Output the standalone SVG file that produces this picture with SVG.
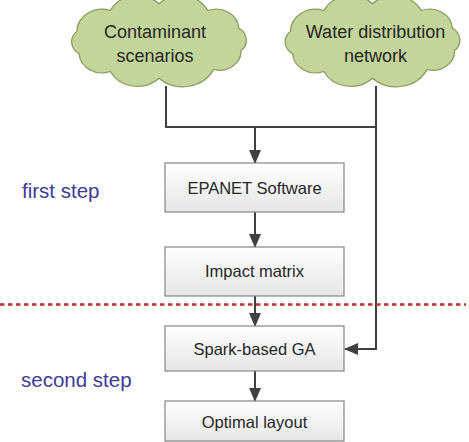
<svg xmlns="http://www.w3.org/2000/svg" width="469" height="442" viewBox="0 0 469 442">
<style>
.cloud{fill:#c4d59b;stroke:#8a9a5e;stroke-width:1.2}
.box{fill:url(#bg);stroke:#858585;stroke-width:1.2}
.ct{font-family:"Liberation Sans",Arial,sans-serif;font-size:18px;fill:#262626;text-anchor:middle}
.bt{font-family:"Liberation Sans",Arial,sans-serif;font-size:16.5px;fill:#262626;text-anchor:middle}
.st{font-family:"Liberation Sans",Arial,sans-serif;font-size:20.5px;fill:#3d3c96}
.ln{fill:none;stroke:#404040;stroke-width:2}
.arr{marker-end:url(#ah)}
</style>
<defs>
<linearGradient id="bg" x1="0" y1="0" x2="0" y2="1">
<stop offset="0" stop-color="#ffffff"/>
<stop offset="1" stop-color="#e6e6e6"/>
</linearGradient>
<marker id="ah" markerUnits="userSpaceOnUse" markerWidth="14" markerHeight="12" viewBox="0 0 14 12" refX="13" refY="6" orient="auto">
<path d="M0,0 L14,6 L0,12 Z" fill="#404040"/>
</marker>
<path id="cl" d="M75.3,9.8 A19.7,19.7 0 0 1 50.1,29.1 A31.6,31.6 0 0 1 0,38 A28,28 0 0 1 -44.7,31.1 A21,21 0 0 1 -73.3,13 A14.2,14.2 0 0 1 -75.3,-9.8 A23.1,23.1 0 0 1 -44.7,-31.1 A28,28 0 0 1 0,-38 A28,28 0 0 1 44.7,-31.1 A21,21 0 0 1 73.3,-13 A14.2,14.2 0 0 1 75.3,9.8 Z"/>
</defs>
<g id="connectors">
<path class="ln" d="M166,86 V127 H376"/>
<path class="ln arr" d="M255,127 V163"/>
<path class="ln arr" d="M376,86 V349 H345"/>
<path class="ln arr" d="M255,212 V247"/>
<path class="ln arr" d="M255,296 V326"/>
<path class="ln arr" d="M255,371 V401"/>
</g>
<g id="cloud-contaminant">
<use href="#cl" class="cloud" transform="translate(159,41) scale(1.09,0.98)" vector-effect="non-scaling-stroke"/>
<text class="ct" x="155" y="38">Contaminant</text>
<text class="ct" x="155" y="62">scenarios</text>
</g>
<g id="cloud-network">
<use href="#cl" class="cloud" transform="translate(372.5,41) scale(1.09,0.98)"/>
<text class="ct" x="375.5" y="38">Water distribution</text>
<text class="ct" x="375.5" y="62">network</text>
</g>
<g id="epanet">
<rect class="box" x="165" y="163" width="179" height="49"/>
<text class="bt" x="254.5" y="194">EPANET Software</text>
</g>
<g id="impact">
<rect class="box" x="165" y="247" width="179" height="49"/>
<text class="bt" x="254.5" y="277">Impact matrix</text>
</g>
<g id="spark">
<rect class="box" x="165" y="326" width="179" height="45"/>
<text class="bt" x="254.5" y="355">Spark-based GA</text>
</g>
<g id="optimal">
<rect class="box" x="165" y="401" width="179" height="40"/>
<text class="bt" x="254.5" y="428">Optimal layout</text>
</g>
<g id="separator">
<line x1="0" y1="304.5" x2="466" y2="304.5" stroke="#c3302b" stroke-width="2.5" stroke-dasharray="4.5,3.5"/>
</g>
<g id="labels">
<text class="st" x="22" y="198">first step</text>
<text class="st" x="21" y="387">second step</text>
</g>
</svg>
